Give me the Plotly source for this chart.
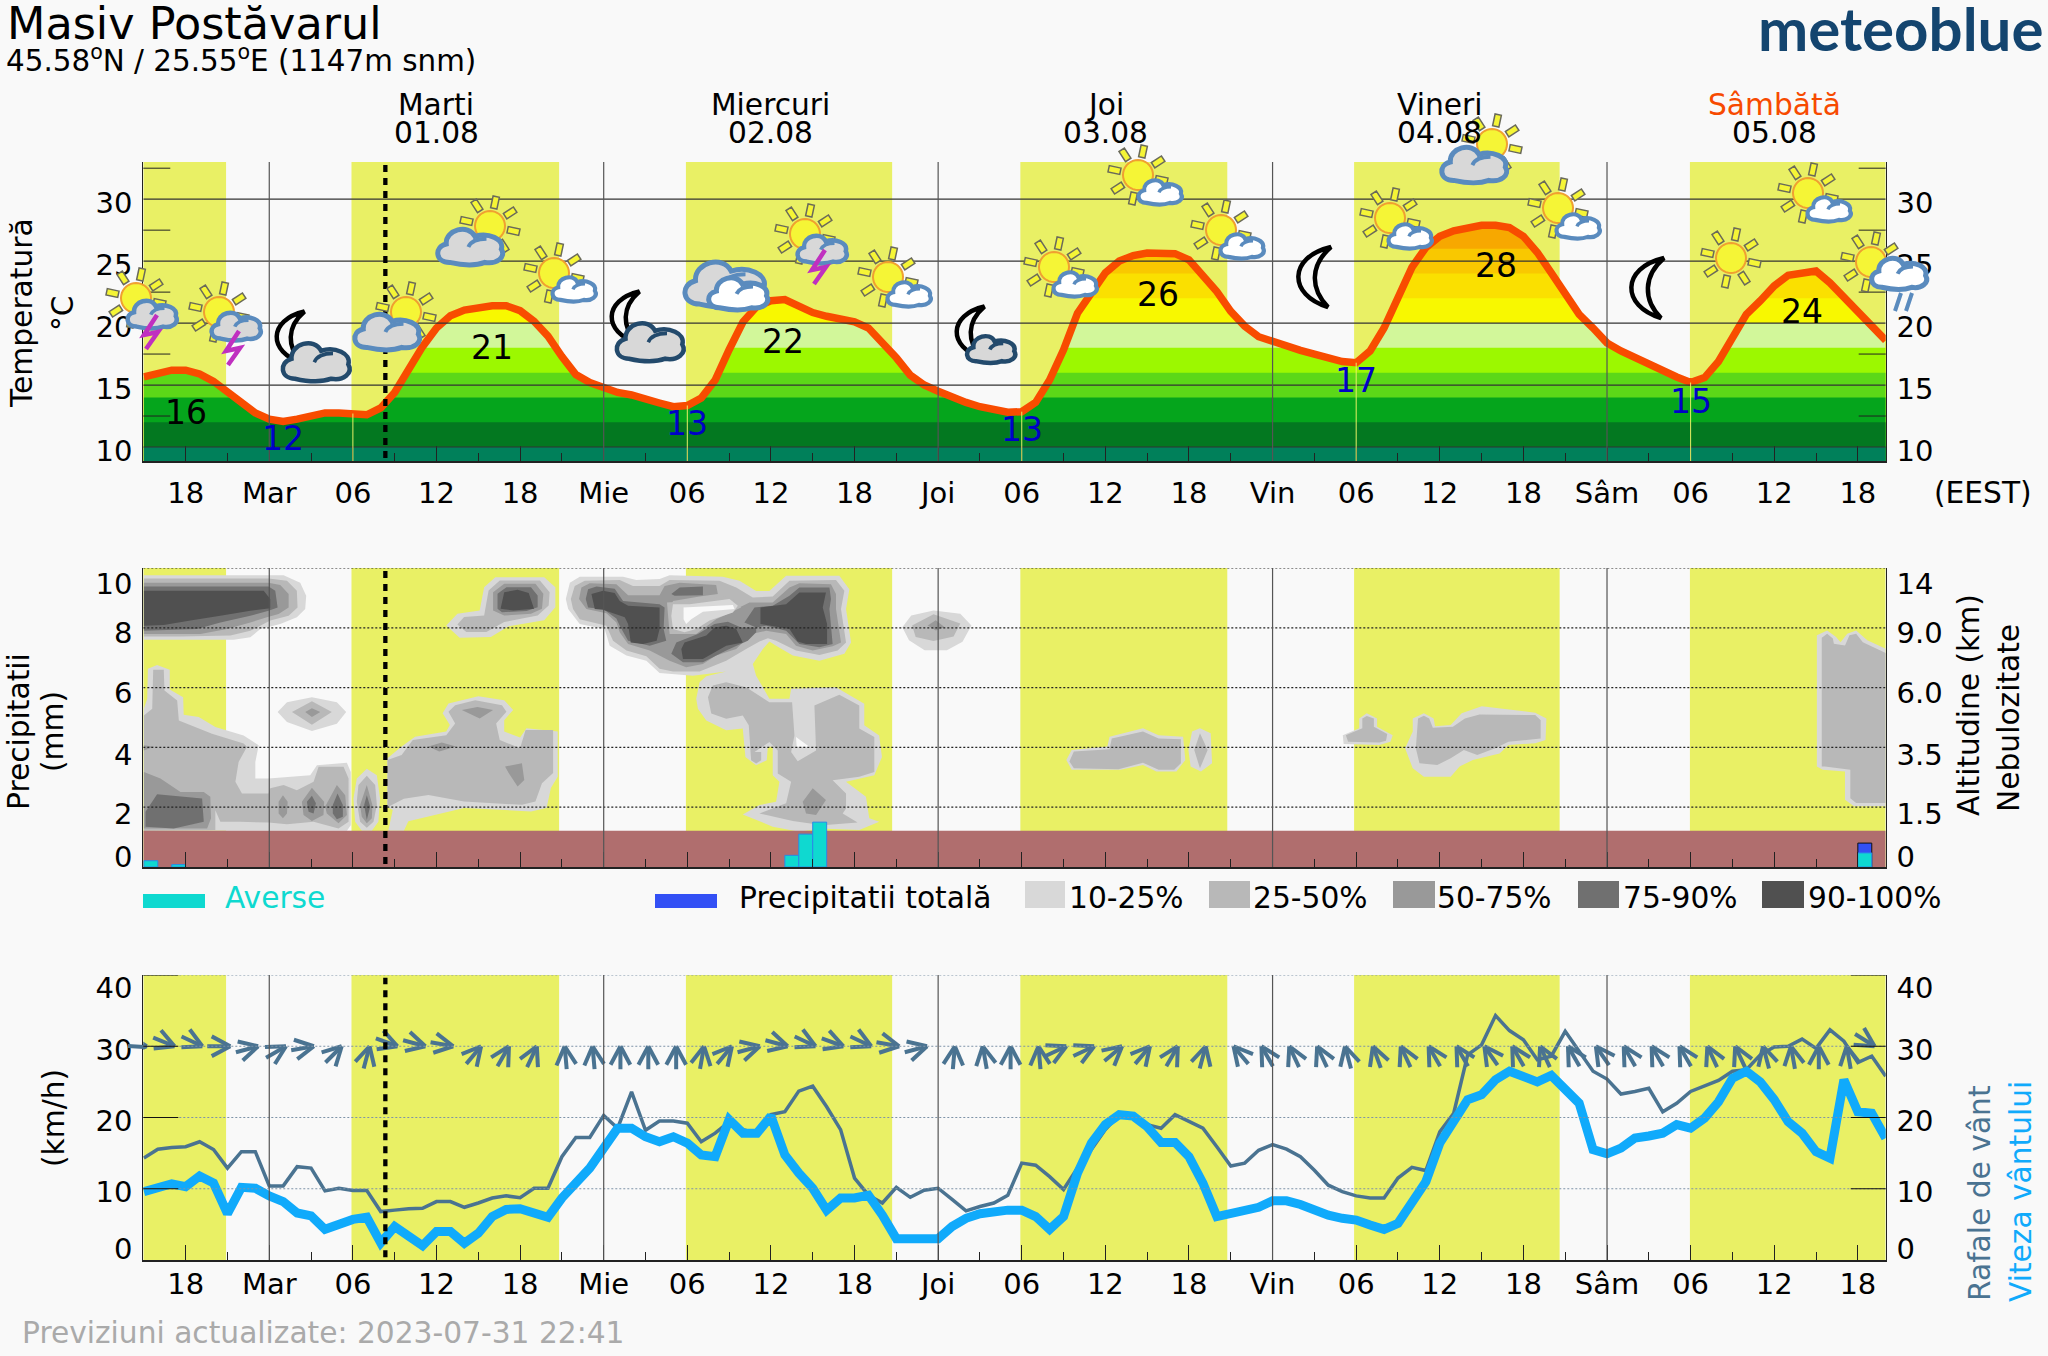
import math
import plotly.graph_objects as go

W, H = 2048, 1356
BG = "#F9F9F9"
FONT = "DejaVu Sans"

# ---------- time axis ----------
hour_range = [-9.04, 116]
major_ticks = [-6, 0, 6, 12, 18, 24, 30, 36, 42, 48, 54, 60, 66, 72, 78, 84, 90, 96, 102, 108, 114]
tick_labels = ["18", "Mar", "06", "12", "18", "Mie", "06", "12", "18", "Joi", "06", "12", "18", "Vin", "06", "12", "18", "Sâm", "06", "12", "18"]
minor_ticks = [-3, 3, 9, 15, 21, 27, 33, 39, 45, 51, 57, 63, 69, 75, 81, 87, 93, 99, 105, 111]
midnights = [0, 24, 48, 72, 96]
sunrise_hours = [6, 30, 54, 78, 102]
now_hour = 8.33
day_starts = [-9.04, 5.9, 29.9, 53.9, 77.85, 101.95]
day_ends = [-3.1, 20.8, 44.7, 68.75, 92.6, 116]
day_names = ["Marti", "Miercuri", "Joi", "Vineri", "Sâmbătă"]
day_dates = ["01.08", "02.08", "03.08", "04.08", "05.08"]
day_centers = [12, 36, 60, 84, 108]

# ---------- temperature (hourly from -9 to 116) ----------
hours = list(range(-9, 117))
temperature = [15.66, 16.0, 16.2, 16.2, 15.9, 15.3, 14.4, 13.5, 12.75, 12.25, 12.07, 12.25, 12.5, 12.75, 12.75, 12.7, 12.6, 13.15,
               14.4, 16.25, 18.1, 19.6, 20.6, 21.05, 21.3, 21.4, 21.4, 21.0, 20.15, 18.95, 17.3, 15.85, 15.2, 14.8, 14.4, 14.2, 13.95,
               13.55, 13.25, 13.35, 13.95, 15.4, 17.85, 20.1, 21.35, 21.8, 21.9, 21.35, 20.85, 20.55, 20.3, 20.1, 19.6, 18.5, 17.2,
               15.8, 15.0, 14.5, 14.0, 13.6, 13.25, 13.0, 12.8, 12.85, 13.6, 15.4, 17.85, 20.8, 22.55, 24.05, 25.0, 25.45, 25.65,
               25.65, 25.6, 25.1, 23.9, 22.55, 20.95, 19.75, 18.9, 18.5, 18.1, 17.8, 17.5, 17.2, 16.9, 16.8, 17.75, 19.6, 21.9, 24.5,
               26.1, 27.0, 27.45, 27.7, 27.9, 27.9, 27.7, 27.0, 25.7, 24.05, 22.3, 20.7, 19.6, 18.4, 17.75, 17.2, 16.65, 16.1, 15.65,
               15.2, 15.6, 16.9, 18.8, 20.7, 21.8, 23.0, 23.85, 24.1, 24.2, 23.25, 22.05, 20.85, 19.6, 18.6]
temp_band_tops = [28.5, 28, 26, 24, 22, 20, 18, 16, 14, 12, 10]
temp_band_colors = ["#F7A800", "#F7A800", "#F9C800", "#FAE000", "#F8F800", "#D2F79A", "#9CF800", "#5CD818", "#05A51C", "#037820", "#00805A"]
extreme_hours = [-6, 1, 16, 30, 36.9, 54, 63.8, 78, 88, 102, 110]
extreme_temps = ["16", "12", "21", "13", "22", "13", "26", "17", "28", "15", "24"]
extreme_y = [12.75, 10.65, 18.05, 11.9, 18.5, 11.43, 22.3, 15.4, 24.66, 13.7, 20.9]
extreme_colors = ["#000", "#0000C8", "#000", "#0000C8", "#000", "#0000C8", "#000", "#0000C8", "#000", "#0000C8", "#000"]

# ---------- precipitation ----------
shower_hours = [-8.5, -6.5, 37.5, 38.5, 39.5, 114.5]
shower_mm = [0.21, 0.08, 0.39, 1.1, 1.5, 0.47]
total_hours = [114.5]
total_mm = [0.8]
ground_mm = 1.21
precip_tick_pos = [0.46, 1.9, 3.9, 5.95, 7.95, 9.62]
precip_ticks = ["0", "2", "4", "6", "8", "10"]
alt_ticks = ["0", "1.5", "3.5", "6.0", "9.0", "14"]
precip_grid = [2, 4, 6, 8, 10]

# ---------- cloud cover regions (hour, level on the 0-10 scale) ----------
cloud_10_25 = [
    [(-9, 9.76), (-.05, 9.76), (1.03, 9.76), (2.22, 9.51), (2.65, 9.07), (2.58, 8.63), (1.98, 8.35), (.79, 8.13), (-.64, 7.96), (-1.36, 7.68), (-2.55, 7.6), (-9, 7.6)],
    [(-9, 5.29), (-8.76, 5.63), (-8.71, 6.63), (-8.05, 6.76), (-7.14, 6.6), (-7.14, 5.94), (-6.18, 5.68), (-6.14, 5.09), (-5.06, 5.02), (-3.87, 4.68), (-1.84, 4.4), (-.76, 4.07), (-1, 3.51), (-1, 2.96), (-.05, 2.96), (2.94, 3.07), (3.42, 3.4), (5.57, 3.49), (5.85, 3.18), (5.85, 1.4), (5.57, 1.21), (-9, 1.21)],
    [(6.04, 2.29), (6.28, 2.96), (7, 3.29), (7.72, 3.07), (7.95, 2.29), (7.83, 1.51), (7.36, 1.21), (6.64, 1.21), (6.16, 1.51)],
    [(.6, 5.18), (1.27, 5.51), (3.06, 5.68), (4.85, 5.51), (5.52, 5.18), (4.85, 4.79), (3.06, 4.55), (1.27, 4.85)],
    [(12.7, 8.08), (13.5, 8.47), (15.1, 8.58), (15.42, 9.36), (16.22, 9.69), (19.73, 9.69), (20.53, 9.36), (20.53, 8.69), (19.73, 8.25), (17.18, 8.05), (15.9, 7.69), (13.66, 7.67)],
    [(8.48, 2), (8.86, 1.91), (8.54, 1.21), (9.66, 1.21), (9.98, 1.53), (11.42, 1.69), (13.98, 1.97), (18.78, 1.86), (19.9, 1.97), (20.21, 2.64), (20.7, 3.02), (20.7, 4.53), (18.46, 4.64), (18, 4.33), (16.86, 4.53), (16.86, 4.91), (17.5, 5.25), (16.86, 5.58), (15, 5.71), (12.86, 5.47), (12.44, 5.14), (12.96, 4.75), (12.7, 4.53), (10.46, 4.36), (9.5, 4.03), (8.48, 3.64)],
    [(21.28, 8.96), (21.57, 9.51), (22.28, 9.71), (25.39, 9.71), (26.34, 9.6), (28.01, 9.63), (28.73, 9.76), (32.55, 9.71), (33.75, 9.57), (34.94, 9.23), (35.89, 9.23), (37.09, 9.74), (40.91, 9.74), (41.63, 9.29), (41.39, 8.63), (41.75, 7.51), (41.27, 7.13), (39.48, 6.9), (37.57, 7.07), (36.37, 7.4), (35.89, 7.54), (35.42, 7.29), (34.7, 6.79), (34.22, 6.68), (32.79, 6.54), (30.4, 6.4), (28.01, 6.49), (27.06, 6.9), (25.63, 7.07), (24.43, 7.4), (24.07, 7.96), (22.28, 8.13), (21.45, 8.63)],
    [(30.64, 5.63), (30.88, 6.18), (31.36, 6.38), (32.79, 6.54), (34.22, 6.68), (34.7, 6.79), (34.94, 6.4), (35.89, 5.63), (37.33, 5.63), (37.45, 5.96), (40.67, 6.01), (42.7, 5.46), (42.7, 4.74), (43.77, 4.4), (43.97, 3.68), (43.42, 3.07), (41.39, 2.85), (42.82, 2.35), (43.06, 1.63), (43.77, 1.51), (42.34, 1.24), (39.48, 1.29), (38.04, 1.18), (36.13, 1.35), (33.98, 1.76), (35.18, 2.07), (36.37, 2.18), (36.61, 2.85), (36.13, 3.07), (36.13, 4.02), (35.78, 4.02), (35.7, 3.57), (34.94, 3.4), (34.17, 3.68), (33.98, 4.63), (32.79, 4.57), (31.36, 4.9), (30.76, 5.29)],
    [(45.43, 8.02), (46.07, 8.41), (47.67, 8.58), (49.59, 8.47), (50.39, 8.08), (49.75, 7.53), (48.63, 7.25), (47.03, 7.25), (45.91, 7.58)],
    [(57.2, 3.58), (57.58, 3.91), (60.14, 4.03), (60.3, 4.36), (62.7, 4.64), (63.82, 4.41), (65.58, 4.36), (65.74, 3.58), (65.1, 3.19), (63.66, 3.19), (62.7, 3.41), (61.1, 3.25), (57.58, 3.25)],
    [(65.96, 3.91), (66.22, 4.53), (66.79, 4.64), (67.56, 4.47), (67.66, 3.47), (66.86, 3.19), (66.12, 3.36)],
    [(77.04, 4.41), (78.22, 4.64), (78.22, 4.97), (78.76, 5.14), (79.5, 4.97), (79.5, 4.69), (80.62, 4.41), (80.46, 4.19), (79.66, 4.08), (77.1, 4.11)],
    [(81.51, 3.97), (82.06, 4.53), (82.06, 4.97), (82.86, 5.14), (83.56, 4.97), (83.66, 4.71), (84.78, 4.75), (85.57, 5.14), (87.01, 5.38), (90.85, 5.16), (91.65, 4.97), (91.59, 4.25), (90.85, 4.14), (88.93, 4.08), (88.29, 3.8), (86.37, 3.58), (85.42, 3.36), (84.78, 3.02), (82.86, 3.02), (82.06, 3.3)],
    [(111.06, 3.36), (111.06, 7.75), (111.8, 7.91), (112.44, 7.69), (112.76, 7.52), (113.24, 7.8), (113.88, 7.91), (114.68, 7.58), (116, 7.3), (116, 2.03), (113.72, 2.03), (113.08, 2.25), (113.08, 3.19), (111.48, 3.25)],
]
cloud_25_50 = [
    [(-9, 9.65), (-.05, 9.65), (1.27, 9.57), (1.98, 9.24), (2.03, 8.68), (1.39, 8.4), (.07, 8.24), (-1.36, 7.9), (-2.79, 7.74), (-6.37, 7.71), (-9, 7.71)],
    [(-9, 5.07), (-8.4, 5.29), (-8.33, 6.6), (-7.57, 6.6), (-7.52, 5.9), (-6.61, 5.57), (-6.49, 4.9), (-4.11, 4.46), (-1.84, 4.13), (-1.6, 4.02), (-2.2, 3.51), (-2.43, 2.85), (-1.96, 2.46), (-.05, 2.46), (.07, 2.63), (1.03, 2.74), (1.98, 2.57), (3.18, 2.85), (3.54, 3.35), (5.33, 3.35), (5.69, 2.96), (5.69, 1.51), (4.97, 1.29), (3.18, 1.51), (1.27, 1.43), (-.05, 1.49), (-2.08, 1.51), (-3.51, 1.51), (-3.87, 1.9), (-3.87, 1.24), (-9, 1.21)],
    [(6.28, 2.18), (6.4, 2.74), (7, 3.05), (7.6, 2.74), (7.72, 2.07), (7.48, 1.51), (7, 1.31), (6.52, 1.51)],
    [(1.63, 5.18), (3.06, 5.54), (4.49, 5.18), (3.06, 4.76)],
    [(13.5, 8.11), (13.98, 8.36), (15.42, 8.41), (15.74, 9.25), (16.54, 9.58), (19.42, 9.58), (20.12, 9.19), (20.05, 8.75), (19.26, 8.41), (16.86, 8.19), (15.58, 7.86), (14.14, 7.86)],
    [(8.48, 3.58), (9.5, 3.75), (10.3, 4.25), (12.7, 4.41), (13.34, 4.8), (12.86, 5.19), (13.34, 5.41), (14.78, 5.58), (16.7, 5.41), (17.02, 5.19), (16.28, 4.8), (16.54, 4.25), (18, 3.97), (18.39, 4.58), (20.37, 4.58), (20.37, 3.14), (19.57, 2.8), (19.1, 2.19), (18.13, 2.08), (13.98, 2.19), (11.42, 2.41), (9.66, 2.28), (8.48, 2)],
    [(21.64, 8.96), (21.92, 9.4), (22.64, 9.57), (25.15, 9.6), (26.1, 9.4), (28.01, 9.4), (28.73, 9.6), (32.31, 9.57), (33.51, 9.35), (34.7, 9.01), (36.13, 9.05), (37.33, 9.57), (40.67, 9.6), (41.27, 9.24), (41.03, 8.63), (41.39, 7.51), (40.79, 7.24), (39.48, 7.09), (37.8, 7.24), (36.37, 7.57), (35.78, 7.65), (35.18, 7.54), (34.22, 7.29), (32.79, 6.9), (30.88, 6.54), (28.97, 6.54), (28.01, 6.63), (27.06, 7.05), (25.63, 7.24), (24.67, 7.57), (24.19, 8.07), (22.28, 8.29), (21.8, 8.63)],
    [(31.48, 5.68), (31.83, 6.07), (32.79, 6.18), (34.22, 6.01), (35.89, 5.51), (37.52, 5.51), (37.69, 4.4), (37.45, 3.85), (37.92, 3.54), (39.24, 3.9), (39.12, 5.4), (40.91, 5.76), (42.34, 5.4), (42.34, 4.63), (43.42, 4.35), (43.42, 3.18), (42.34, 3.02), (40.43, 2.9), (41.39, 2.46), (41.39, 1.96), (41.15, 1.79), (42.22, 1.49), (39.72, 1.4), (37.57, 1.54), (35.18, 1.79), (37.09, 2.13), (37.45, 2.85), (36.49, 3.13), (36.49, 3.9), (35.89, 4.18), (34.82, 3.85), (35.3, 3.85), (35.3, 3.57), (34.94, 3.46), (34.58, 3.57), (34.41, 4.74), (33.98, 5.07), (32.79, 4.96), (31.72, 5.13)],
    [(46.13, 8.08), (47.67, 8.45), (49.59, 8.14), (49.11, 7.71), (47.67, 7.56), (46.39, 7.69)],
    [(57.42, 3.53), (57.74, 3.86), (60.3, 3.94), (60.46, 4.3), (62.7, 4.53), (63.82, 4.3), (65.42, 4.27), (65.42, 3.47), (64.94, 3.25), (63.82, 3.25), (62.7, 3.49), (60.94, 3.27), (57.74, 3.3)],
    [(66.38, 3.91), (66.79, 4.47), (67.34, 3.91), (66.79, 3.3)],
    [(77.26, 4.41), (78.44, 4.64), (78.44, 4.97), (78.76, 5.05), (79.27, 4.97), (79.27, 4.69), (80.23, 4.45), (80.14, 4.22), (79.66, 4.16), (77.42, 4.19)],
    [(82.28, 3.97), (82.44, 4.97), (82.86, 5.06), (83.24, 4.97), (83.5, 4.66), (84.94, 4.69), (85.8, 4.97), (86.85, 5.1), (90.85, 5.08), (91.24, 4.91), (91.24, 4.3), (88.93, 4.19), (87.97, 3.97), (86.69, 3.75), (85.73, 3.91), (84.78, 3.64), (83.82, 3.41), (82.54, 3.47)],
    [(111.41, 3.36), (111.41, 7.67), (111.8, 7.8), (112.21, 7.64), (112.28, 7.47), (113.08, 7.41), (113.4, 7.75), (113.88, 7.8), (114.36, 7.52), (116, 7.16), (116, 2.14), (113.88, 2.14), (113.46, 2.3), (113.46, 3.25), (111.64, 3.36)],
]
cloud_50_75 = [
    [(-9, 9.51), (-.05, 9.51), (.79, 9.43), (1.39, 9.13), (1.39, 8.68), (.67, 8.46), (-.17, 8.35), (-1.36, 8.18), (-3.03, 7.96), (-4.94, 7.79), (-9, 7.79)],
    [(-9, 3.18), (-7.81, 2.96), (-6.37, 2.51), (-4.7, 2.51), (-4.23, 2.35), (-4.18, 1.63), (-4.46, 1.29), (-9, 1.29)],
    [(-9, 4.07), (-8.28, 4.02), (-9, 3.9)],
    [(.67, 2.18), (.98, 2.4), (1.32, 2.18), (1.27, 1.79), (.98, 1.63), (.67, 1.79)],
    [(2.34, 2.18), (3.06, 2.65), (3.94, 2.18), (3.89, 1.74), (3.06, 1.54), (2.46, 1.74)],
    [(4.01, 2.02), (4.85, 2.74), (5.45, 2.4), (5.57, 1.74), (4.97, 1.46), (4.13, 1.79)],
    [(6.52, 2.07), (7, 2.74), (7.4, 2.07), (7.36, 1.63), (7, 1.46), (6.64, 1.68)],
    [(2.58, 5.18), (3.06, 5.31), (3.66, 5.18), (3.06, 5.02)],
    [(16.06, 8.58), (16.06, 9.19), (16.86, 9.47), (19.1, 9.47), (19.67, 9.14), (19.57, 8.64), (18.78, 8.47), (16.86, 8.41)],
    [(13.82, 5.25), (14.94, 5.35), (16.06, 5.25), (15.1, 4.97)],
    [(11.42, 4.03), (12.38, 4.16), (13.4, 4.03), (12.2, 3.86)],
    [(16.92, 3.36), (18.13, 3.47), (18.3, 2.91), (17.82, 2.69), (17.18, 3.14)],
    [(22.23, 8.96), (22.4, 9.35), (23, 9.49), (24.91, 9.46), (25.75, 9.09), (28.01, 9.09), (28.37, 9.4), (29.45, 9.51), (32.07, 9.43), (32.19, 9.13), (30.88, 9.05), (28.97, 8.9), (28.73, 8.51), (28.73, 7.9), (29.21, 7.85), (30.4, 8.01), (32.07, 8.4), (33.51, 8.63), (34.46, 8.85), (36.13, 8.85), (37.33, 9.35), (38.04, 9.49), (40.31, 9.46), (40.67, 9.13), (40.67, 8.63), (41.03, 7.51), (40.43, 7.38), (39, 7.24), (37.8, 7.4), (37.09, 7.79), (35.66, 7.9), (34.58, 7.79), (33.51, 7.29), (32.07, 7.07), (31.12, 6.79), (29.92, 6.68), (28.73, 6.9), (27.3, 7.24), (25.75, 7.46), (25.15, 7.85), (24.91, 8.18), (24.19, 8.49), (22.76, 8.63)],
    [(38.28, 2.18), (39, 2.63), (39.95, 2.24), (39.24, 1.74), (38.52, 1.79)],
    [(47.25, 8.08), (47.83, 8.25), (48.47, 8.02), (47.83, 7.91)],
]
cloud_75_90 = [
    [(-9, 9.38), (-.05, 9.38), (.43, 9.24), (.6, 8.68), (-.05, 8.57), (-1.36, 8.4), (-3.51, 8.18), (-5.18, 7.96), (-9, 7.9)],
    [(-8.88, 1.85), (-8.05, 2.43), (-4.82, 2.29), (-4.7, 1.51), (-6.85, 1.29), (-8.88, 1.35)],
    [(2.7, 2.18), (3.06, 2.38), (3.35, 2.13), (3.18, 1.79), (2.82, 1.85)],
    [(4.56, 2.07), (4.9, 2.46), (5.28, 2.07), (5.28, 1.68), (4.85, 1.6), (4.56, 1.79)],
    [(6.81, 2.07), (7, 2.4), (7.24, 2.02), (7, 1.57)],
    [(16.38, 8.64), (16.38, 9.14), (17.02, 9.36), (18.78, 9.36), (19.26, 9.08), (19.26, 8.69), (18.46, 8.56), (16.7, 8.52)],
    [(22.71, 8.96), (22.88, 9.29), (23.48, 9.38), (24.79, 9.31), (25.39, 8.9), (28.01, 8.79), (28.37, 8.68), (28.3, 7.96), (28.49, 7.57), (27.3, 7.4), (25.75, 7.57), (25.15, 8.07), (24.91, 8.31), (23.95, 8.63), (22.88, 8.68)],
    [(28.85, 9.13), (29.45, 9.35), (31.12, 9.38), (31.12, 9.09), (29.09, 9.07)],
    [(28.85, 7.13), (29.21, 7.51), (30.76, 7.79), (31.95, 8.13), (32.91, 8.2), (33.86, 8.01), (34.94, 8.01), (34.94, 7.85), (34.34, 7.57), (32.79, 7.24), (31.12, 6.85), (29.69, 6.85)],
    [(34.1, 8.18), (34.82, 8.68), (36.13, 8.74), (37.33, 9.07), (38.04, 9.35), (40.2, 9.35), (40.31, 8.96), (40.2, 8.63), (40.43, 7.46), (39.48, 7.35), (38.04, 7.46), (37.09, 7.9), (35.66, 8.07), (34.94, 8.01)],
]
cloud_90_100 = [
    [(-9, 9.24), (-.4, 9.24), (.07, 8.96), (.07, 8.65), (-1.36, 8.57), (-3.51, 8.4), (-5.66, 8.24), (-7.57, 8.09), (-9, 8.07)],
    [(16.6, 8.64), (16.86, 9.19), (17.82, 9.27), (18.62, 9.16), (19, 8.64), (17.5, 8.58)],
    [(23.12, 9.13), (23.95, 9.24), (24.79, 9.16), (25.15, 8.9), (25.75, 8.74), (28.01, 8.68), (28.01, 7.96), (27.8, 7.57), (26.82, 7.46), (25.94, 7.51), (25.75, 8.13), (25.51, 8.35), (23.95, 8.6), (23.36, 8.63)],
    [(29.57, 7.29), (29.8, 7.51), (31.36, 7.74), (31.95, 8.01), (32.79, 8.07), (33.51, 7.96), (33.98, 7.51), (32.79, 7.4), (31.12, 6.96), (29.69, 6.96)],
    [(35.25, 8.68), (37.09, 8.79), (38.04, 9.18), (39.95, 9.18), (39.72, 8.68), (40.03, 8.13), (40.03, 7.46), (38.52, 7.46), (37.92, 7.54), (37.33, 7.96), (35.25, 8.13)],
]
gap_25_50 = [[(28.54, 8.85), (30.16, 8.9), (33.03, 9.07), (33.86, 8.68), (32.07, 8.29), (30.64, 7.79), (28.73, 7.79)]]
gap_10_25 = [[(28.97, 8.79), (30.16, 8.79), (33.03, 8.96), (33.63, 8.74), (33.27, 8.51), (31.6, 8.24), (30.64, 7.96), (29.8, 7.85), (28.97, 7.96), (28.85, 8.4)]]
gap_clear = [[(29.73, 8.68), (33.27, 8.76), (33.39, 8.63), (31.12, 8.54), (30.28, 8.29), (29.92, 8.13), (29.73, 8.29)],
             [(37.8, 4.35), (38.76, 4.02), (37.85, 4.02)]]
cloud_legend = ["10-25%", "25-50%", "50-75%", "75-90%", "90-100%"]
cloud_colors = ["#D8D8D8", "#B8B8B8", "#999999", "#707070", "#505050"]

# ---------- wind (hourly from -9 to 116) ----------
wind_speed = [9.6, 10.07, 10.7, 10.3, 11.8, 10.8, 6.5, 10.2, 10.07, 9.0, 8.2, 6.6, 6.2, 4.3, 5.05, 5.7, 6.0, 2.4, 4.7, 3.5, 2.0, 4.0, 4.0, 2.35,
              3.75, 6.1, 7.1, 7.2, 6.6, 6.0, 8.7, 10.8, 12.9, 15.7, 18.5, 18.5, 17.3, 16.6, 17.3, 16.4, 14.75, 14.5, 19.7, 17.8, 17.8, 20.2,
              14.75, 12.2, 10.07, 7.0, 8.7, 8.7, 9.1, 6.3, 3.0, 3.0, 3.0, 3.0, 4.7, 5.85, 6.5, 6.9, 7.0, 7.0, 6.1, 4.3, 6.1, 12.2, 16.4, 19.0,
              20.4, 20.2, 18.7, 16.5, 16.5, 14.5, 10.8, 6.1, 6.5, 6.8, 7.4, 8.3, 8.3, 7.8, 7.0, 6.3, 5.85, 5.6, 4.9, 4.3, 5.15, 8.0, 11.0, 16.4,
              19.2, 22.5, 23.2, 25.3, 26.5, 25.9, 25.0, 25.9, 24.1, 22.0, 15.5, 14.9, 15.7, 17.1, 17.4, 17.8, 19.0, 18.5, 19.9, 22.2, 25.5,
              26.5, 25.0, 22.5, 19.4, 17.8, 15.2, 14.3, 25.3, 20.8, 20.6, 17.1]
wind_gust = [14.3, 15.55, 15.8, 15.9, 16.6, 15.5, 12.9, 15.2, 15.2, 10.4, 10.4, 13.1, 12.9, 9.7, 10.07, 9.75, 9.75, 6.8, 7.0, 7.2, 7.25, 8.2, 8.2,
             7.4, 8.0, 8.7, 9.0, 8.75, 10.07, 10.07, 14.5, 17.2, 17.2, 20.3, 18.5, 23.6, 18.2, 19.5, 19.5, 19.2, 16.6, 17.8, 19.4, 18.3, 17.8,
             20.4, 20.8, 23.7, 24.4, 21.5, 18.3, 11.5, 9.1, 8.0, 10.2, 8.8, 9.8, 10.07, 8.5, 6.9, 7.5, 8.0, 9.1, 13.6, 13.3, 11.7, 9.9, 12.9,
             15.5, 18.3, 20.4, 20.1, 19.0, 18.5, 20.4, 19.4, 18.5, 15.9, 13.2, 13.6, 15.4, 16.2, 15.55, 14.5, 12.6, 10.5, 9.6, 9.0, 8.7, 8.7,
             11.5, 13.0, 12.55, 18.0, 20.6, 28.8, 30.2, 34.3, 32.2, 30.9, 28.1, 28.6, 32.1, 29.3, 26.5, 25.4, 23.3, 23.65, 24.1, 20.8, 22.0,
             23.65, 24.4, 25.2, 26.5, 26.7, 28.8, 29.9, 30.0, 31.0, 29.7, 32.3, 30.7, 27.7, 28.6, 25.8]
arrow_hours = [-8.8 + 2 * k for k in range(63)]
arrow_level = 30
arrow_bearing = [95, 112, 115, 90, 75, 60, 80, 45, 15, 110, 105, 100, 40, 30, 25, 355, 355, 0, 0, 0, 10,
                 40, 75, 105, 115, 110, 115, 100, 75, 5, 350, 0, 355, 65, 65, 50, 40, 30, 15, 320, 330, 335, 335, 345, 340,
                 335, 330, 330, 325, 330, 335, 330, 325, 330, 330, 330, 335, 335, 345, 350, 0, 350, 122]
wind_ticks = ["0", "10", "20", "30", "40"]
wind_tick_pos = [1.5, 9.55, 19.55, 29.55, 38.2]
wind_grid = [10, 20, 30, 40]
temp_ticks = [10, 15, 20, 25, 30]
temp_inner_ticks = [12.5, 17.5, 22.5, 27.5, 32.5]


# ---------- helpers ----------
def closed(polys):
    xs, ys = [], []
    for poly in polys:
        xs += [p[0] for p in poly] + [poly[0][0], None]
        ys += [p[1] for p in poly] + [poly[0][1], None]
    return xs, ys


def px(x, y):
    return f"{x / W:.5f},{1 - y / H:.5f}"


def path(points, close=True):
    return "M" + " L".join(px(*p) for p in points) + (" Z" if close else "")


fig = go.Figure()
shapes, annots = [], []
P1, P2, P3 = (162, 461), (568, 867), (975, 1260)
dom = [143.3 / W, 1885.7 / W]
TXT = 29.7


def ydom(p):
    return [1 - p[1] / H, 1 - p[0] / H]


def text(x, y, s, size=TXT, color="#000", anchor="left", angle=0, **font):
    annots.append(dict(xref="paper", yref="paper", x=x / W, y=1 - y / H, text=s, showarrow=False, xanchor=anchor, yanchor="middle",
                       textangle=angle, font=dict(size=size, color=color, family=font.get("family", FONT), weight=font.get("weight", 400)), borderpad=0))


# sun bands
YEL = "#E9F065"
for xr, yr in (("x", "y domain"), ("x2", "y2 domain"), ("x3", "y3 domain")):
    for a, b in zip(day_starts, day_ends):
        shapes.append(dict(type="rect", xref=xr, yref=yr, x0=a, x1=b, y0=0, y1=1, fillcolor=YEL, line_width=0, layer="below"))

# temperature bands
def clipped(top):
    xs, ys = [], []
    for i, (h, t) in enumerate(zip(hours, temperature)):
        if i and (temperature[i - 1] - top) * (t - top) < 0:
            f = (top - temperature[i - 1]) / (t - temperature[i - 1])
            xs.append(hours[i - 1] + f)
            ys.append(top)
        xs.append(h)
        ys.append(min(t, top))
    return xs, ys


for top, col in zip(temp_band_tops, temp_band_colors):
    xs, ys = clipped(top)
    fig.add_trace(go.Scatter(x=xs, y=ys, mode="none", fill="tozeroy", fillcolor=col, hoverinfo="skip", showlegend=False, xaxis="x", yaxis="y"))
fig.add_trace(go.Scatter(x=hours, y=temperature, mode="lines", line=dict(color="#F84C00", width=7.5), hoverinfo="skip", showlegend=False, xaxis="x", yaxis="y"))
fig.add_trace(go.Scatter(x=[0], y=[20], mode="none", hoverinfo="skip", showlegend=False, xaxis="x", yaxis="y4"))

# clouds
for polys, col in ((cloud_10_25, cloud_colors[0]), (cloud_25_50, cloud_colors[1]), (cloud_50_75, cloud_colors[2]), (cloud_75_90, cloud_colors[3]),
                   (cloud_90_100, cloud_colors[4]), (gap_25_50, cloud_colors[1]), (gap_10_25, cloud_colors[0]), (gap_clear, BG)):
    xs, ys = closed(polys)
    fig.add_trace(go.Scatter(x=xs, y=ys, mode="none", fill="toself", fillcolor=col, hoverinfo="skip", showlegend=False, xaxis="x2", yaxis="y2"))
fig.add_trace(go.Scatter(x=hour_range, y=[ground_mm, ground_mm], mode="none", fill="tozeroy", fillcolor="#B06E6E", hoverinfo="skip", showlegend=False, xaxis="x2", yaxis="y2"))
fig.add_trace(go.Bar(x=total_hours, y=total_mm, width=1, marker=dict(color="#3350F5", line=dict(color="#111", width=1)), hoverinfo="skip", showlegend=False, xaxis="x2", yaxis="y5"))
fig.add_trace(go.Bar(x=shower_hours, y=shower_mm, width=1, marker=dict(color="#0FD9D0", line=dict(color="#2A8AE8", width=1)), hoverinfo="skip", showlegend=False, xaxis="x2", yaxis="y5"))

# wind
fig.add_trace(go.Scatter(x=hours, y=wind_gust, mode="lines", line=dict(color="#4A7391", width=3.5), hoverinfo="skip", showlegend=False, xaxis="x3", yaxis="y3"))
fig.add_trace(go.Scatter(x=hours, y=wind_speed, mode="lines", line=dict(color="#10AAFB", width=9), hoverinfo="skip", showlegend=False, xaxis="x3", yaxis="y3"))
PXH, PXV = 1742.4 / (hour_range[1] - hour_range[0]), 285 / 40
ax, ay = [], []
for h, b in zip(arrow_hours, arrow_bearing):
    t = math.radians(b)
    ux, uy = math.sin(t) * 23, math.cos(t) * 23
    ax += [h - ux / PXH, h, None]
    ay += [arrow_level - uy / PXV, arrow_level, None]
    for d in (-28, 28):
        t2 = math.radians(b + d)
        ax += [h - math.sin(t2) * 21 / PXH, h, None]
        ay += [arrow_level - math.cos(t2) * 21 / PXV, arrow_level, None]
fig.add_trace(go.Scatter(x=ax, y=ay, mode="lines", line=dict(color="#4A7391", width=4), hoverinfo="skip", showlegend=False, xaxis="x3", yaxis="y3"))
fig.add_trace(go.Scatter(x=[0], y=[20], mode="none", hoverinfo="skip", showlegend=False, xaxis="x3", yaxis="y6"))
shapes.append(dict(type="line", xref="paper", yref="paper", x0=128 / W, x1=144 / W, y0=1 - 1046 / H, y1=1 - 1047 / H, line=dict(color="#4A7391", width=4)))

# reference lines
for v in temp_ticks:
    shapes.append(dict(type="line", xref="x", yref="y", x0=hour_range[0], x1=hour_range[1], y0=v, y1=v, line=dict(color="#333", width=1.2)))
for v in temp_inner_ticks:
    for a, b in ((0, 27 / 1742.4), (1 - 27 / 1742.4, 1)):
        shapes.append(dict(type="line", xref="x domain", yref="y", x0=a, x1=b, y0=v, y1=v, line=dict(color="#222", width=1)))
for v in precip_grid:
    shapes.append(dict(type="line", xref="x2", yref="y2", x0=hour_range[0], x1=hour_range[1], y0=v, y1=v, line=dict(color="#222", width=1.2, dash="2px,2px")))
for v in wind_grid:
    shapes.append(dict(type="line", xref="x3", yref="y3", x0=hour_range[0], x1=hour_range[1], y0=v, y1=v, line=dict(color="#7E93A8", width=1, dash="2px,2px")))
    for a, b in ((0, 35 / 1742.4), (1 - 35 / 1742.4, 1)):
        shapes.append(dict(type="line", xref="x3 domain", yref="y3", x0=a, x1=b, y0=v, y1=v, line=dict(color="#111", width=1.2)))
for m in midnights:
    for xr, yr in (("x", "y domain"), ("x2", "y2 domain"), ("x3", "y3 domain")):
        shapes.append(dict(type="line", xref=xr, yref=yr, x0=m, x1=m, y0=0, y1=1, line=dict(color="#555", width=1.2)))
for h in sunrise_hours:
    t = temperature[hours.index(h)]
    shapes.append(dict(type="line", xref="x", yref="y", x0=h, x1=h, y0=8.87, y1=t, line=dict(color=YEL, width=1)))
for xr, yr in (("x", "y domain"), ("x2", "y2 domain"), ("x3", "y3 domain")):
    shapes.append(dict(type="line", xref=xr, yref=yr, x0=now_hour, x1=now_hour, y0=0.01, y1=0.99, line=dict(color="#000", width=4.3, dash="7px,6px")))


# ---------- weather symbols ----------
def sun(cx, cy):
    rays = ""
    for k in range(8):
        a = math.radians(12 + 45 * k)
        ux, uy = math.sin(a), -math.cos(a)
        nx, ny = -uy * 3.2, ux * 3.2
        rays += path([(cx + ux * 18 + nx, cy + uy * 18 + ny), (cx + ux * 30 + nx, cy + uy * 30 + ny), (cx + ux * 30 - nx, cy + uy * 30 - ny), (cx + ux * 18 - nx, cy + uy * 18 - ny)]) + " "
    shapes.append(dict(type="path", xref="paper", yref="paper", path=rays, fillcolor="#F5F536", line=dict(color="#6A6A5A", width=1.5)))
    circle = [(cx + 15 * math.cos(i * math.pi / 18), cy + 15 * math.sin(i * math.pi / 18)) for i in range(36)]
    shapes.append(dict(type="path", xref="paper", yref="paper", path=path(circle), fillcolor="#F5F536", line=dict(color="#F0A030", width=2)))


CLOUD = [("M", (-.62, .85)), ("C", (-1.05, .85), (-1.1, .1), (-.72, -.05)), ("C", (-.75, -.75), (-.05, -1.05), (.15, -.42)),
         ("C", (.55, -.62), (1.05, -.3), (.95, .2)), ("C", (1.1, .6), (.8, .95), (.45, .85)), ("C", (.2, 1.0), (-.2, 1.0), (-.62, .85))]


def cloud(cx, cy, w, h, fill="#D8D8D8", edge="#5A8BBE", lw=5):
    def q(p):
        return px(cx + p[0] * w / 2, cy + p[1] * h / 2)
    d = " ".join(seg[0] + " ".join(q(p) for p in seg[1:]) for seg in CLOUD) + " Z"
    shapes.append(dict(type="path", xref="paper", yref="paper", path=d, fillcolor=fill, line=dict(color=edge, width=lw)))
    hook = "M" + q((.5, -.3)) + " C" + q((.2, -.3)) + " " + q((.02, -.15)) + " " + q((-.05, .1))
    shapes.append(dict(type="path", xref="paper", yref="paper", path=hook, line=dict(color=edge, width=lw * .8)))


def moon(cx, cy, s=1.0):
    def q(a, b):
        return px(cx + a * s, cy + b * s)
    d = "M" + q(17, -30) + " C" + q(-26, -20) + " " + q(-26, 18) + " " + q(14, 30) + " C" + q(-4, 12) + " " + q(-4, -12) + " " + q(17, -30) + " Z"
    shapes.append(dict(type="path", xref="paper", yref="paper", path=d, fillcolor=BG, line=dict(color="#000", width=4.5)))


def bolt(cx, cy):
    pts = [(cx + 5, cy - 15), (cx - 8, cy + 5), (cx + 6, cy + 2), (cx - 6, cy + 19)]
    shapes.append(dict(type="path", xref="paper", yref="paper", path=path(pts, False), line=dict(color="#C030C0", width=4.5)))


def rain(cx, cy):
    for dx in (-5, 6):
        shapes.append(dict(type="line", xref="paper", yref="paper", x0=(cx + dx + 3) / W, x1=(cx + dx - 3) / W, y0=1 - (cy - 9) / H, y1=1 - (cy + 9) / H, line=dict(color="#5A8BBE", width=4)))


NIGHT = "#234A6C"
# sun with thunder cloud
for sx, sy, cx, cy, bx, by in ((136, 298, 152, 313, 152, 330), (219, 312, 236, 325, 234, 346), (805, 234, 822, 248, 820, 265)):
    sun(sx, sy)
    cloud(cx, cy, 50, 32, "#D8D8D8", "#5A8BBE", 4.5)
    bolt(bx, by)
# moon with night cloud
for mx, my, cx, cy, w, h in ((290, 337, 316, 360, 68, 44), (625, 317, 650, 340, 68, 44), (970, 332, 991, 348, 49, 31)):
    moon(mx, my, .85)
    cloud(cx, cy, w, h, "#D8D8D8", NIGHT, 4.5)
# moon alone
moon(1314, 277)
moon(1647, 288)
# sun with big cloud
for sx, sy, cx, cy in ((490, 226, 470, 245), (406, 312, 387, 330), (1492, 144, 1474, 163)):
    sun(sx, sy)
    cloud(cx, cy, 66, 41, "#D8D8D8", "#5A8BBE", 5)
# sun with small white cloud
for sx, sy, cx, cy in ((554, 273, 574, 288), (888, 277, 909, 293), (1138, 175, 1160, 191), (1054, 267, 1075, 283), (1221, 230, 1242, 245),
                       (1390, 218, 1410, 235), (1558, 208, 1578, 225), (1808, 193, 1829, 208)):
    sun(sx, sy)
    cloud(cx, cy, 44, 28, "#FFFFFF", "#5A8BBE", 4.2)
sun(1731, 258)
cloud(725, 282, 82, 52, "#D8D8D8", "#5A8BBE", 5)
cloud(738, 292, 60, 37, "#FFFFFF", "#5A8BBE", 5)
sun(1871, 262)
cloud(1899, 272, 56, 36, "#FFFFFF", "#5A8BBE", 5)
rain(1903, 302)

# ---------- texts ----------
text(6, 23, "Masiv Postăvarul", 44.5)
text(5, 59, "45.58<sup>o</sup>N / 25.55<sup>o</sup>E (1147m snm)", 29.4)
text(2044, 28, "meteoblue", 60, "#14456F", "right", family="Lato", weight=700)
for h, n, d in zip(day_centers, day_names, day_dates):
    xp = 143.3 + (h - hour_range[0]) * PXH
    text(xp, 105, n, TXT, "#F74A00" if n == "Sâmbătă" else "#000", "center")
    text(xp, 132, d, TXT, "#000", "center")
text(1933, 492, "(EEST)")
text(21, 313, "Temperatură", anchor="center", angle=-90)
text(62, 313, "°C", anchor="center", angle=-90)
text(19, 732, "Precipitatii", anchor="center", angle=-90)
text(53, 732, "(mm)", anchor="center", angle=-90)
text(1968, 705, "Altitudine (km)", anchor="center", angle=-90)
text(2008, 718, "Nebulozitate", anchor="center", angle=-90)
text(53, 1118, "(km/h)", anchor="center", angle=-90)
text(1979, 1193, "Rafale de vânt", TXT, "#4A7391", "center", -90)
text(2020, 1192, "Viteza vântului", TXT, "#10AAFB", "center", -90)
text(21, 1332, "Previziuni actualizate: 2023-07-31 22:41", TXT, "#AAAAAA")
for h, v, yv, col in zip(extreme_hours, extreme_temps, extreme_y, extreme_colors):
    annots.append(dict(xref="x", yref="y", x=h, y=yv, text=v, showarrow=False, font=dict(size=33, color=col, family=FONT)))

# legend row
def swatch(x0, x1, y0, y1, col):
    shapes.append(dict(type="rect", xref="paper", yref="paper", x0=x0 / W, x1=x1 / W, y0=1 - y1 / H, y1=1 - y0 / H, fillcolor=col, line_width=0))


swatch(143, 205, 894, 908, "#0FD9D0")
text(224, 898, "Averse", TXT, "#0FD9D0")
swatch(655, 717, 894, 908, "#3350F5")
text(738, 898, "Precipitatii totală")
for x0, x1, tx, lab, col in zip((1025, 1209, 1393, 1578, 1762), (1065, 1250, 1435, 1619, 1804), (1068, 1252, 1436, 1622, 1807), cloud_legend, cloud_colors):
    swatch(x0, x1, 881, 908, col)
    text(tx, 898, lab)

# ---------- axes ----------
def xaxis(anchor, labels=True, standoff=0):
    return dict(domain=dom, range=hour_range, anchor=anchor, tickmode="array", tickvals=major_ticks, ticktext=tick_labels, ticks="inside", ticklen=15,
                tickcolor="#222", tickwidth=1, showline=True, linecolor="#222", linewidth=1.5, showgrid=False, zeroline=False, showticklabels=labels,
                tickfont=dict(size=29, color="#000"), tickangle=0, ticklabelstandoff=standoff,
                minor=dict(tickmode="array", tickvals=minor_ticks, ticks="inside", ticklen=8, tickcolor="#222", tickwidth=1, showgrid=False))


def yaxis(p, rng, vals, labels, side="left", anchor="x", overlay=None, shift=4):
    d = dict(range=rng, anchor=anchor, tickmode="array", tickvals=vals, ticktext=labels, ticks="", showgrid=False, zeroline=False, side=side,
             tickfont=dict(size=29, color="#000"), ticklabelstandoff=4, ticklabelshift=shift, showline=True, linecolor="#222", linewidth=1.2)
    if overlay:
        d["overlaying"] = overlay
    else:
        d["domain"] = ydom(p)
    return d


fig.update_layout(
    width=W, height=H, margin=dict(l=0, r=0, t=0, b=0, autoexpand=False), paper_bgcolor=BG, plot_bgcolor="rgba(0,0,0,0)", font=dict(family=FONT, size=29, color="#000"),
    showlegend=False, barmode="overlay", hovermode=False, shapes=shapes, annotations=annots,
    xaxis=xaxis("y", True, 5), xaxis2=xaxis("y2", False), xaxis3=xaxis("y3", True, -3),
    yaxis=yaxis(P1, [8.87, 33], temp_ticks, [str(v) for v in temp_ticks]),
    yaxis4=yaxis(P1, [8.87, 33], temp_ticks, [str(v) for v in temp_ticks], "right", "x", "y"),
    yaxis2=yaxis(P2, [0, 10], precip_tick_pos, precip_ticks, anchor="x2"),
    yaxis5=yaxis(P2, [0, 10], precip_tick_pos, alt_ticks, "right", "x2", "y2"),
    yaxis3=yaxis(P3, [0, 40], wind_tick_pos, wind_ticks, anchor="x3", shift=0),
    yaxis6=yaxis(P3, [0, 40], wind_tick_pos, wind_ticks, "right", "x3", "y3", shift=0),
)
fig.write_html("out.html", config={"displayModeBar": False},
               post_script="document.body.style.margin='0';document.body.style.background='#F9F9F9';document.body.style.overflow='hidden';")
